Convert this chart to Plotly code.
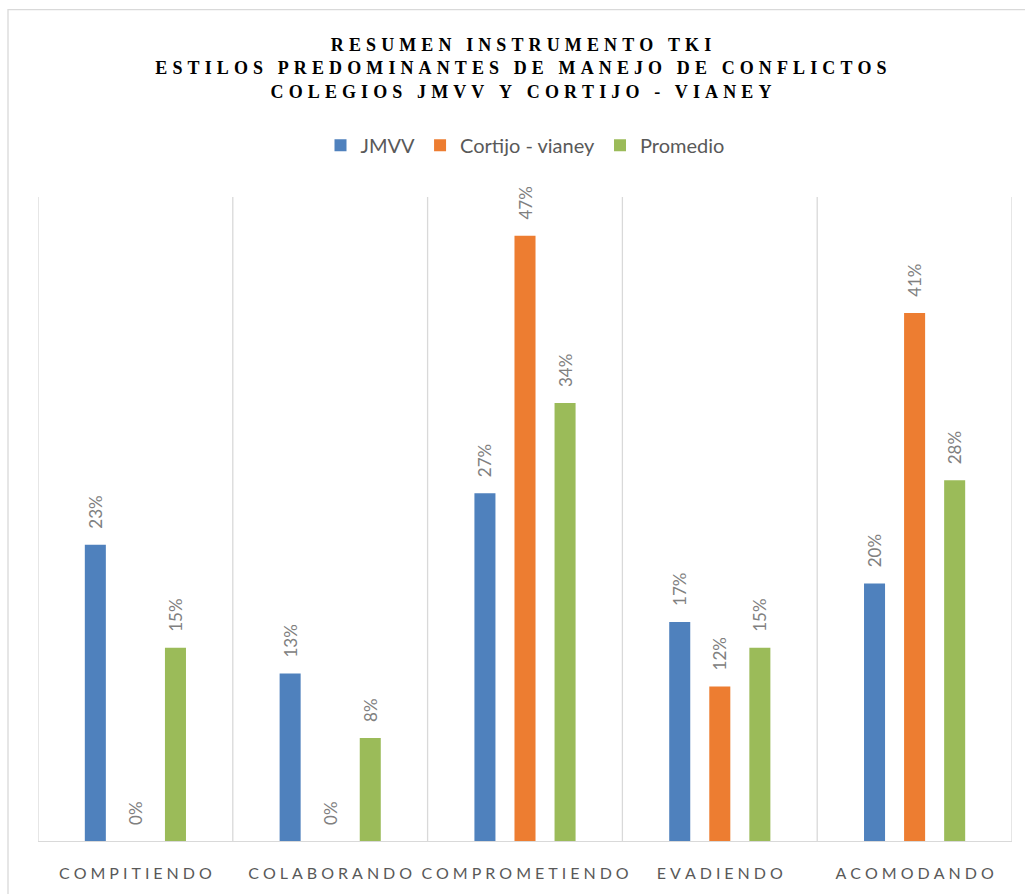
import plotly.graph_objects as go

categories = ["COMPITIENDO", "COLABORANDO", "COMPROMETIENDO", "EVADIENDO", "ACOMODANDO"]
jmvv = [0.23, 0.13, 0.27, 0.17, 0.20]
cortijo = [0.00, 0.00, 0.47, 0.12, 0.41]
promedio = [0.15, 0.08, 0.34, 0.15, 0.28]
series_names = ["JMVV", "Cortijo - vianey", "Promedio"]
colors = ["#4F81BD", "#ED7D31", "#9BBB59"]
title_lines = ["RESUMEN INSTRUMENTO TKI",
               "ESTILOS PREDOMINANTES DE MANEJO DE CONFLICTOS",
               "COLEGIOS JMVV Y CORTIJO - VIANEY"]

HS = "\u200a"   # hair space
TS = "\u2009"   # thin space
PAD = "\u00a0\u00a0\u00a0"


def spaced(s, sep):
    return sep.join(list(s))


tick_text = [spaced(c, TS + TS) for c in categories]
title_text = "<br>".join(spaced(t, TS + HS) for t in title_lines)

W, H = 1025, 894
L, R, T, B = 38, 13, 197, 51
pw = W - L - R
ph = H - T - B

fig = go.Figure()
for name, vals, col in zip(series_names, [jmvv, cortijo, promedio], colors):
    fig.add_trace(go.Bar(
        name=name, x=categories, y=vals, marker=dict(color=col, line=dict(width=0)),
        text=[f"{PAD}{round(v*100)}%" for v in vals], textposition="outside",
        textangle=-90, cliponaxis=False, constraintext="none",
        textfont=dict(family="Lato, Open Sans, sans-serif", size=17, color="#808080"),
        hoverinfo="skip",
    ))

shapes = []
for i in range(len(categories) + 1):
    shapes.append(dict(type="line", xref="x", yref="y", x0=i - 0.5, x1=i - 0.5,
                       y0=0, y1=0.5, line=dict(color="#D9D9D9", width=1.3), layer="below"))
# outer chart border
shapes.append(dict(type="rect", xref="paper", yref="paper",
                   x0=(8 - L) / pw, x1=(W + 10 - L) / pw,
                   y0=-(B + 20) / ph, y1=(H - B - 9) / ph,
                   line=dict(color="#D9D9D9", width=1.3), fillcolor="rgba(0,0,0,0)"))

fig.update_layout(
    width=W, height=H,
    margin=dict(l=L, r=R, t=T, b=B),
    paper_bgcolor="white", plot_bgcolor="white",
    barmode="group", bargap=0.383, bargroupgap=0.475,
    title=dict(text=f"<b>{title_text}</b>", x=(521) / W, xanchor="center",
               y=1 - 51 / H, yanchor="top",
               font=dict(family="Liberation Serif, Times New Roman, serif", size=18, color="#000000")),
    legend=dict(orientation="h", x=(525 - L) / pw, xanchor="center",
                y=(H - B - 145) / ph, yanchor="middle",
                font=dict(family="Lato, Open Sans, sans-serif", size=20, color="#595959"),
                itemwidth=30, traceorder="normal"),
    xaxis=dict(tickmode="array", tickvals=categories, ticktext=tick_text,
               showgrid=False, showline=True, linecolor="#D9D9D9", linewidth=1.3,
               ticks="", ticklabelstandoff=18,
               tickfont=dict(family="Lato, Open Sans, sans-serif", size=16, color="#595959"),
               range=[-0.5, len(categories) - 0.5], fixedrange=True),
    yaxis=dict(range=[0, 0.5], showgrid=False, showticklabels=False, zeroline=False,
               showline=False, ticks=""),
    shapes=shapes,
)

fig.write_html("out.html")
